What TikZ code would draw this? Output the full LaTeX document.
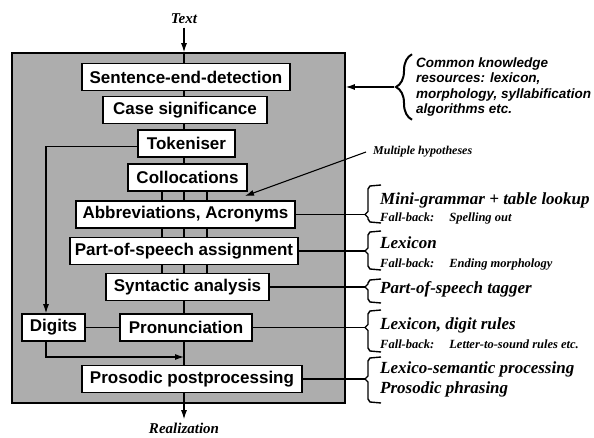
\documentclass[tikz,border=0pt]{standalone}
\usepackage{fontspec}
\setmainfont{Liberation Serif}
\setsansfont{Liberation Sans}
\usetikzlibrary{arrows.meta,decorations.pathreplacing}

% square bracket in front of a side note: top, tip, bottom
\newcommand{\sidebracket}[3]{%
  \draw[bracketline] (381,#1) -- (370,#1+1) -- (368,#1+4) -- (368,#2-3) -- (365,#2)
    -- (368,#2+3) -- (368,#3-4) -- (370,#3-1) -- (381,#3);}

\begin{document}
\begin{tikzpicture}[x=1pt,y=-1pt,
  stage/.style={draw, fill=white, line width=1.6pt, inner sep=0pt, minimum height=27pt,
    font=\sffamily\bfseries\fontsize{17}{17}\selectfont},
  note/.style={anchor=west, inner sep=0pt, align=left,
    font=\bfseries\itshape\fontsize{17}{20}\selectfont},
  flow/.style={line width=1.1pt},
  arr/.style={line width=1.1pt, -{Latex[length=9pt,width=6pt]}},
  bracketline/.style={line width=1.4pt}]
\useasboundingbox (0,0) rectangle (594,438);

\node[draw, line width=1.6pt, fill=black!32, minimum width=333pt, minimum height=350pt] (frame) at (178.5,228) {};
\coordinate (spine) at (184,0);
\coordinate (hypL) at (162,0);
\coordinate (hypR) at (207,0);
\coordinate (side) at (46,0);
\coordinate (brk) at (365,0);

\node[stage, minimum width=208pt] (sed) at (186,77) {Sentence-end-detection};
\node[stage, minimum width=164pt] (case) at (185,110) {Case significance};
\node[stage, minimum width=97pt] (tok) at (186.5,143.5) {Tokeniser};
\node[stage, minimum width=119pt] (coll) at (187.5,177.5) {Collocations};
\node[stage, minimum width=219pt] (abbr) at (185.5,214.5) {Abbreviations, Acronyms};
\node[stage, minimum width=228pt] (pos) at (184,251) {Part-of-speech assignment};
\node[stage, minimum width=163pt] (syn) at (187.5,287) {Syntactic analysis};
\node[stage, minimum width=63pt] (digits) at (53.5,327.5) {Digits};
\node[stage, minimum width=132pt] (pron) at (186,327.5) {Pronunciation};
\node[stage, minimum width=220pt] (pros) at (192,379) {Prosodic postprocessing};

\node[font=\bfseries\itshape\fontsize{15}{15}\selectfont] (input) at (184,19) {Text};
\node[font=\bfseries\itshape\fontsize{15}{15}\selectfont] (output) at (184,428) {Realization};

% main flow
\draw[arr] (input) -- (frame.north -| spine);
\draw[flow] (frame.north -| spine) -- (sed.north -| spine);
\draw[flow] (sed.south -| spine) -- (case.north -| spine);
\draw[flow] (case.south -| spine) -- (tok.north -| spine);
\draw[flow] (tok.south -| spine) -- (coll.north -| spine);
\foreach \c in {hypL,spine,hypR} {
  \draw[flow] (coll.south -| \c) -- (abbr.north -| \c);
  \draw[flow] (abbr.south -| \c) -- (pos.north -| \c);
  \draw[flow] (pos.south -| \c) -- (syn.north -| \c);
}
\draw[flow] (syn.south -| spine) -- (pron.north -| spine);
\draw[flow] (pron.south -| spine) -- (pros.north -| spine);
\draw[flow] (pros.south -| spine) -- (frame.south -| spine);
\draw[arr] (frame.south -| spine) -- (output);

% digits branch
\coordinate (merge) at (184,357);
\draw[arr] ([yshift=-3pt]tok.west) -| (digits.north -| side);
\draw[flow] (digits) -- (pron);
\draw[arr] (digits.south -| side) |- (merge);

% knowledge resources
\node[anchor=west, inner sep=0pt, align=left, font=\sffamily\bfseries\itshape\fontsize{13.5}{15.5}\selectfont] (know) at (416,87)
  {Common knowledge\\resources: lexicon,\\morphology, syllabification\\algorithms etc.};
\draw[decorate, decoration={brace, amplitude=16pt}, line width=2pt]
  ([xshift=-4pt,yshift=-3pt]know.south west) -- ([xshift=-4pt,yshift=3pt]know.north west);
\draw[arr] ([xshift=-22pt]know.west) -- (know.west -| frame.east);

% multiple hypotheses
\node[anchor=west, inner sep=0pt, font=\bfseries\itshape\fontsize{12}{12}\selectfont] (multi) at (373,152) {Multiple hypotheses};
\coordinate (hyptip) at (245,196);
\draw[arr] ([xshift=-7pt]multi.west) -- (hyptip);

% side notes
\node[note] (nabbr) at (380,208) {Mini-grammar + table lookup\\[-3pt]{\fontsize{12.5}{14}\selectfont Fall-back:\hspace{1.2em}Spelling out}};
\node[note] (npos) at (380,253.5) {Lexicon\\[-1pt]{\fontsize{12.5}{14}\selectfont Fall-back:\hspace{1.2em}Ending morphology}};
\node[note] (nsyn) at (380,289) {Part-of-speech tagger};
\node[note] (npron) at (380,333.5) {Lexicon, digit rules\\[-1pt]{\fontsize{12.5}{14}\selectfont Fall-back:\hspace{1.2em}Letter-to-sound rules etc.}};
\node[note] (npros) at (380,379) {Lexico-semantic processing\\Prosodic phrasing};

\sidebracket{185}{214.5}{223}
\sidebracket{231}{251}{270}
\sidebracket{279}{287}{303}
\sidebracket{310}{327.5}{352}
\sidebracket{357}{379}{403}

\draw[flow] (abbr.east) -- (abbr.east -| brk);
\draw[flow] (pos.east) -- (pos.east -| brk);
\draw[flow] (syn.east) -- (syn.east -| brk);
\draw[flow] (pron.east) -- (pron.east -| brk);
\draw[flow] (pros.east) -- (pros.east -| brk);
\end{tikzpicture}
\end{document}
